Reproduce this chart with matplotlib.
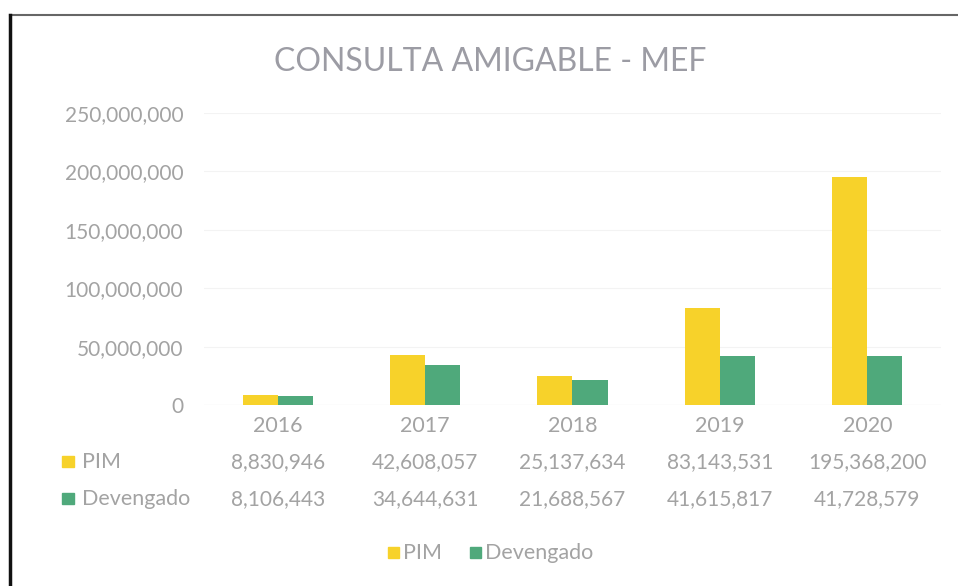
import matplotlib
matplotlib.use("Agg")
import matplotlib.pyplot as plt
from matplotlib.lines import Line2D
from matplotlib.patches import Rectangle
import matplotlib.transforms as mtrans

years = ["2016", "2017", "2018", "2019", "2020"]
pim = [8830946, 42608057, 25137634, 83143531, 195368200]
devengado = [8106443, 34644631, 21688567, 41615817, 41728579]
series_names = ["PIM", "Devengado"]
yticks = [0, 50000000, 100000000, 150000000, 200000000, 250000000]

C_PIM = "#F7D22A"
C_DEV = "#4FA97B"
TXT = "#a3a3a3"
FONT = "Lato"
FS = 15

W, H = 958, 586
fig = plt.figure(figsize=(W / 100, H / 100), dpi=100)
fig.patch.set_facecolor("white")

# plot area in pixels
left, right, top, bottom = 204, 941, 113, 405
ax = fig.add_axes([left / W, 1 - bottom / H, (right - left) / W, (bottom - top) / H])
ax.set_facecolor("white")

x = list(range(len(years)))
bw = 0.238
ax.bar([i - bw / 2 for i in x], pim, width=bw, color=C_PIM, zorder=3)
ax.bar([i + bw / 2 for i in x], devengado, width=bw, color=C_DEV, zorder=3)

ax.set_xlim(-0.5, len(years) - 0.5)
ax.set_ylim(0, 250000000)
ax.set_yticks(yticks)
ax.set_yticklabels([f"{v:,}" for v in yticks], fontfamily=FONT, fontsize=FS, color=TXT)
ax.tick_params(axis="y", length=0, pad=15)
ax.set_xticks(x)
ax.set_xticklabels(years, fontfamily=FONT, fontsize=FS + 0.5, color=TXT)
ax.tick_params(axis="x", length=0, pad=8)
ax.grid(axis="y", color="#f3f3f3", lw=0.8, zorder=0)
for s in ax.spines.values():
    s.set_visible(False)
ax.axhline(0, color="#e6e6e6", lw=0.8, zorder=2)

# data table rows
trans = mtrans.blended_transform_factory(ax.transData, fig.transFigure)
rows = [(pim, 462, C_PIM), (devengado, 499, C_DEV)]
for (vals, ypix, col), name in zip(rows, series_names):
    for i, v in enumerate(vals):
        fig.text(i, 1 - ypix / H, f"{v:,}", transform=trans, ha="center", va="center",
                 fontfamily=FONT, fontsize=FS, color=TXT)
    fig.patches.append(Rectangle((62 / W, 1 - (ypix + 5) / H), 12 / W, 11 / H,
                                 transform=fig.transFigure, color=col, figure=fig))
    fig.text(82 / W, 1 - ypix / H, name, ha="left", va="center",
             fontfamily=FONT, fontsize=FS + 0.5, color=TXT)

# bottom legend
ly = 553
for xs, name, col in [(388, "PIM", C_PIM), (470, "Devengado", C_DEV)]:
    fig.patches.append(Rectangle((xs / W, 1 - (ly + 5) / H), 11 / W, 11 / H,
                                 transform=fig.transFigure, color=col, figure=fig))
    fig.text((xs + 15) / W, 1 - ly / H, name, ha="left", va="center",
             fontfamily=FONT, fontsize=FS + 0.5, color=TXT)

# title
fig.text(490 / W, 1 - 62 / H, "CONSULTA AMIGABLE - MEF", ha="center", va="center",
         fontfamily=FONT, fontsize=23, color="#9c9ca4")

# chart border (scan edges)
fig.lines.append(Line2D([10 / W, 1], [1 - 15 / H, 1 - 15 / H], transform=fig.transFigure,
                        color="#666666", lw=1.5))
fig.lines.append(Line2D([10 / W, 10 / W], [1 - 15 / H, 0], transform=fig.transFigure,
                        color="#111111", lw=2.5))

fig.savefig("out.png", dpi=100, facecolor="white")
